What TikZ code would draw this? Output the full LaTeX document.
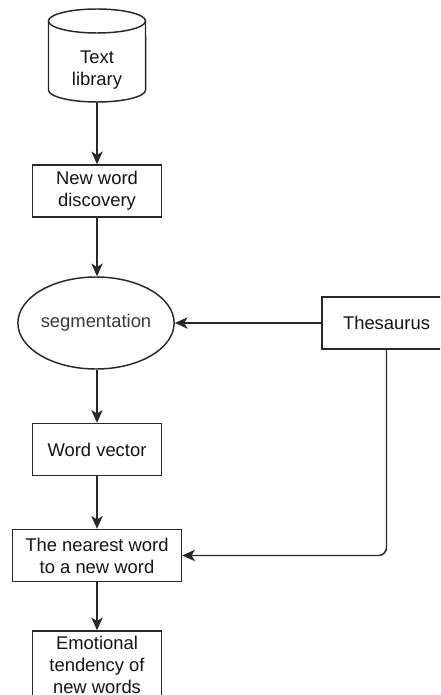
\documentclass[tikz,border=0pt]{standalone}
\usepackage{fontspec}
\setmainfont{Liberation Sans}
\usetikzlibrary{arrows.meta,shapes.geometric}
\definecolor{linegray}{RGB}{40,40,40}
\definecolor{txtgray}{RGB}{20,20,20}

\begin{document}
\begin{tikzpicture}[x=0.75pt,y=-0.75pt,
  every node/.style={font=\fontsize{13.8}{16.5}\selectfont,text=txtgray,align=center,inner sep=0pt},
  box/.style={draw=linegray,line width=1.1pt,minimum width=96.75pt,minimum height=39pt},
  flow/.style={draw=linegray,line width=1.1pt,-{Stealth[length=9.5pt,width=8.5pt,inset=2.5pt]}}]
  \clip (0,0) rectangle (440,695);

  % text library (cylinder)
  \draw[linegray,line width=1.1pt] (97,21) ellipse [x radius=36.4pt,y radius=9pt];
  \draw[linegray,line width=1.1pt] (48.5,21) -- (48.5,90)
    arc [start angle=180,end angle=360,x radius=36.4pt,y radius=9pt] -- (145.5,21);
  \node[minimum width=72pt,minimum height=48pt] (lib) at (97,70) {Text\\library};

  \node[box] (disc) at (97,191) {New word\\discovery};
  \node[ellipse,draw=linegray,line width=1.1pt,minimum width=106.5pt,minimum height=69pt,
    text=darkgray!90!black] (seg) at (96,323) {segmentation};
  \node[box] (thes) at (386.5,323) {Thesaurus};
  \node[box] (vec) at (97,449.5) {Word vector};
  \node[box,minimum width=126.75pt] (near) at (97,555.5) {The nearest word\\to a new word};
  \node[box,minimum height=51pt] (emo) at (97,665) {Emotional\\tendency of\\new words};

  \draw[flow] (lib) -- (disc);
  \draw[flow] (disc) -- (disc |- seg.north);
  \draw[flow] (thes) -- (seg);
  \draw[flow] (seg.south -| vec) -- (vec);
  \draw[flow] (vec) -- (near);
  \draw[flow] (near) -- (emo);
  \draw[flow,rounded corners=6pt] (thes) -- (thes |- near.east) -- (near);

\end{tikzpicture}
\end{document}
